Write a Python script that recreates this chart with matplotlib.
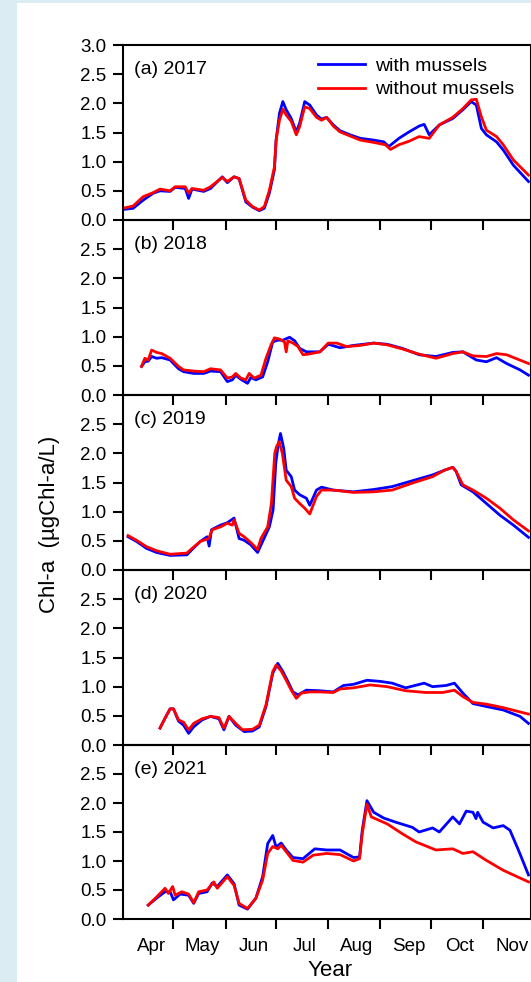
import matplotlib
matplotlib.use('Agg')
import matplotlib.pyplot as plt
from matplotlib.patches import Rectangle
from matplotlib.ticker import FixedLocator, FormatStrFormatter

plt.rcParams['font.family'] = ['Liberation Sans', 'DejaVu Sans']

# day of year (2017 calendar) and Chl-a values
years = ['(a) 2017', '(b) 2018', '(c) 2019', '(d) 2020', '(e) 2021']

# (a) 2017
day_a_with = [91, 97, 103, 109, 113, 119, 122, 128, 130, 132, 139, 143, 150, 153, 157, 160, 164, 168, 172, 175,
              178, 181, 182, 184, 186, 188, 191, 194, 196, 199, 202, 206, 209, 212, 216, 220, 226, 232, 240, 246,
              249, 255, 261, 267, 270, 273, 279, 287, 293, 298, 301, 304, 307, 313, 317, 323, 332]
chl_a_with = [0.18, 0.20, 0.34, 0.46, 0.50, 0.49, 0.56, 0.54, 0.37, 0.53, 0.49, 0.54, 0.74, 0.64, 0.74, 0.71, 0.31,
              0.22, 0.16, 0.20, 0.46, 0.86, 1.37, 1.83, 2.03, 1.89, 1.74, 1.51, 1.66, 2.03, 1.97, 1.80, 1.73, 1.76,
              1.63, 1.53, 1.46, 1.40, 1.37, 1.34, 1.26, 1.40, 1.51, 1.61, 1.64, 1.46, 1.63, 1.74, 1.89, 2.03, 1.97,
              1.57, 1.46, 1.34, 1.20, 0.94, 0.66]
day_a_without = [91, 97, 103, 109, 113, 119, 122, 128, 130, 132, 139, 143, 150, 153, 157, 160, 164, 168, 172, 175,
                 178, 181, 182, 184, 186, 188, 191, 194, 196, 199, 202, 206, 209, 212, 216, 220, 226, 232, 240, 247,
                 250, 255, 261, 267, 273, 279, 287, 293, 298, 301, 304, 307, 313, 317, 323, 332]
chl_a_without = [0.20, 0.24, 0.40, 0.47, 0.53, 0.50, 0.57, 0.57, 0.46, 0.54, 0.51, 0.57, 0.73, 0.66, 0.74, 0.71,
                 0.34, 0.23, 0.17, 0.23, 0.51, 0.91, 1.37, 1.71, 1.90, 1.80, 1.69, 1.46, 1.60, 1.94, 1.91, 1.76,
                 1.71, 1.76, 1.61, 1.51, 1.44, 1.37, 1.33, 1.29, 1.21, 1.29, 1.35, 1.43, 1.40, 1.63, 1.76, 1.91,
                 2.06, 2.07, 1.77, 1.54, 1.43, 1.29, 1.03, 0.77]

# (b) 2018
day_b_with = [102, 104, 106, 108, 111, 114, 119, 124, 127, 133, 139, 143, 149, 153, 156, 158, 161, 165, 167, 170,
              174, 177, 180, 183, 186, 190, 193, 196, 200, 208, 213, 220, 228, 240, 248, 257, 267, 277, 287, 293,
              301, 307, 313, 319, 327, 332]
chl_b_with = [0.49, 0.57, 0.58, 0.66, 0.63, 0.64, 0.60, 0.45, 0.40, 0.37, 0.37, 0.41, 0.40, 0.23, 0.26, 0.34, 0.27,
              0.20, 0.30, 0.26, 0.31, 0.57, 0.91, 0.94, 0.94, 0.99, 0.93, 0.80, 0.74, 0.74, 0.87, 0.81, 0.85, 0.89,
              0.87, 0.80, 0.69, 0.66, 0.73, 0.74, 0.60, 0.57, 0.64, 0.54, 0.43, 0.34]
day_b_without = [102, 104, 106, 108, 111, 114, 119, 124, 127, 133, 139, 143, 149, 153, 156, 158, 161, 164, 166, 169,
                 173, 176, 179, 181, 184, 187, 188, 189, 192, 195, 198, 201, 208, 213, 218, 224, 232, 240, 248, 257,
                 267, 277, 287, 293, 299, 307, 313, 319, 332]
chl_b_without = [0.49, 0.63, 0.60, 0.77, 0.73, 0.71, 0.63, 0.49, 0.43, 0.41, 0.40, 0.45, 0.43, 0.29, 0.31, 0.37,
                 0.29, 0.26, 0.37, 0.29, 0.34, 0.63, 0.86, 0.98, 0.96, 0.91, 0.74, 0.93, 0.89, 0.83, 0.69, 0.70,
                 0.74, 0.89, 0.89, 0.83, 0.85, 0.89, 0.86, 0.79, 0.70, 0.63, 0.71, 0.74, 0.67, 0.66, 0.71, 0.69, 0.54]

# (c) 2019
day_c_with = [94, 99, 105, 111, 119, 129, 132, 137, 141, 142.2, 143.6, 149, 153, 157, 160, 163, 167, 171, 174, 178,
              180.2, 181.8, 183.2, 184.6, 186.5, 188, 191, 193, 196, 200, 202, 206, 209, 216, 228, 240, 251, 263,
              275, 282, 287, 289, 292, 299, 307, 315, 323, 332]
chl_c_with = [0.57, 0.49, 0.37, 0.30, 0.25, 0.26, 0.35, 0.49, 0.57, 0.41, 0.69, 0.77, 0.81, 0.89, 0.54, 0.51, 0.43,
              0.30, 0.49, 0.74, 1.03, 1.83, 2.14, 2.34, 2.09, 1.71, 1.60, 1.37, 1.29, 1.23, 1.11, 1.37, 1.42, 1.37,
              1.34, 1.38, 1.43, 1.53, 1.63, 1.71, 1.76, 1.69, 1.46, 1.34, 1.14, 0.94, 0.77, 0.56]
day_c_without = [94, 99, 105, 111, 119, 129, 132, 137, 142, 144, 149, 153, 156, 157, 160, 163, 167, 171, 173, 177,
                 179.2, 181.2, 182.2, 183.8, 185.7, 188, 191, 193, 196, 199, 202, 206, 209, 216, 228, 240, 251,
                 263, 275, 282, 287, 289, 293, 299, 307, 315, 323, 332]
chl_c_without = [0.59, 0.51, 0.40, 0.33, 0.27, 0.29, 0.37, 0.49, 0.54, 0.69, 0.74, 0.80, 0.77, 0.86, 0.63, 0.57,
                 0.47, 0.35, 0.54, 0.74, 1.14, 2.00, 2.11, 2.20, 2.00, 1.54, 1.43, 1.23, 1.14, 1.06, 0.96, 1.26,
                 1.37, 1.37, 1.33, 1.34, 1.37, 1.49, 1.60, 1.71, 1.76, 1.69, 1.46, 1.37, 1.23, 1.06, 0.86, 0.67]

# (d) 2020
day_d_with = [113, 116, 119, 121, 124, 127, 130, 133, 138, 143, 148, 151, 154, 158, 163, 168, 172, 176, 180, 183,
              186, 189, 192, 195, 200, 208, 216, 222, 228, 236, 244, 251, 259, 270, 275, 283, 288, 293, 299, 307,
              317, 327, 332]
chl_d_with = [0.29, 0.46, 0.62, 0.62, 0.41, 0.34, 0.20, 0.31, 0.43, 0.49, 0.45, 0.26, 0.49, 0.34, 0.23, 0.24, 0.31,
              0.66, 1.23, 1.40, 1.26, 1.09, 0.91, 0.86, 0.94, 0.93, 0.91, 1.02, 1.04, 1.11, 1.09, 1.06, 0.98, 1.06,
              1.00, 1.02, 1.06, 0.89, 0.71, 0.66, 0.60, 0.49, 0.37]
day_d_without = [113, 116, 119, 121, 124, 127, 130, 133, 138, 143, 148, 151, 154, 158, 162, 168, 172, 176, 180, 182,
                 185, 188, 191, 194, 197, 202, 208, 216, 220, 228, 238, 248, 259, 271, 281, 288, 293, 299, 307,
                 317, 332]
chl_d_without = [0.29, 0.46, 0.62, 0.62, 0.43, 0.39, 0.26, 0.37, 0.45, 0.49, 0.47, 0.29, 0.49, 0.37, 0.26, 0.27,
                 0.34, 0.69, 1.26, 1.37, 1.27, 1.11, 0.94, 0.80, 0.89, 0.91, 0.91, 0.90, 0.96, 0.98, 1.03, 1.00,
                 0.93, 0.90, 0.90, 0.94, 0.83, 0.73, 0.70, 0.64, 0.53]

# (e) 2021
day_e_with = [106, 111, 116, 119, 121, 125, 130, 133, 136, 141, 144, 147, 153, 157, 160, 165, 170, 174, 177, 180,
              182, 185, 188, 192, 198, 205, 212, 220, 228, 231.6, 233.2, 236, 240, 246, 253, 263, 267, 275, 279,
              287, 291, 295, 299, 300.8, 301.8, 305, 311, 317, 321, 326, 332]
chl_e_with = [0.24, 0.36, 0.47, 0.47, 0.33, 0.43, 0.41, 0.27, 0.44, 0.47, 0.62, 0.56, 0.76, 0.61, 0.24, 0.17, 0.36,
              0.73, 1.30, 1.44, 1.24, 1.31, 1.19, 1.06, 1.04, 1.21, 1.19, 1.19, 1.06, 1.07, 1.53, 2.04, 1.84, 1.74,
              1.67, 1.58, 1.50, 1.57, 1.50, 1.76, 1.64, 1.86, 1.84, 1.73, 1.84, 1.67, 1.57, 1.61, 1.53, 1.19, 0.76]
day_e_without = [106, 111, 116, 118, 120.5, 122, 126, 130, 133, 136, 141, 145, 147, 153, 157, 160, 165, 170, 174,
                 177, 180, 183, 185, 188, 192, 198, 204, 212, 220, 228, 231.6, 233.2, 236, 238.6, 248, 257, 265,
                 277, 287, 293, 299, 307, 317, 332]
chl_e_without = [0.24, 0.38, 0.53, 0.44, 0.56, 0.41, 0.47, 0.43, 0.28, 0.47, 0.50, 0.64, 0.53, 0.73, 0.58, 0.27,
                 0.18, 0.36, 0.67, 1.13, 1.25, 1.21, 1.27, 1.16, 1.01, 0.98, 1.10, 1.13, 1.11, 1.00, 1.04, 1.47,
                 1.98, 1.76, 1.64, 1.47, 1.33, 1.19, 1.21, 1.13, 1.16, 1.01, 0.84, 0.64]

month_names = ['Apr', 'May', 'Jun', 'Jul', 'Aug', 'Sep', 'Oct', 'Nov']
month_starts = [91, 121, 152, 182, 213, 244, 274, 305]

panels = [
    (day_a_with, chl_a_with, day_a_without, chl_a_without),
    (day_b_with, chl_b_with, day_b_without, chl_b_without),
    (day_c_with, chl_c_with, day_c_without, chl_c_without),
    (day_d_with, chl_d_with, day_d_without, chl_d_without),
    (day_e_with, chl_e_with, day_e_without, chl_e_without),
]

W, H = 531, 982
fig = plt.figure(figsize=(W / 100, H / 100), dpi=100)
fig.patch.set_facecolor('#dcecf3')
# white card behind the chart
fig.patches.append(Rectangle((17 / W, 0), 1 - 17 / W, 1 - 3 / H, transform=fig.transFigure,
                             facecolor='white', edgecolor='none', zorder=-10))

tops = [45, 220, 395, 570, 745]
bottoms = [220, 395, 570, 745, 919]
left_px, right_px = 123, 531

for i, (dw, cw, dwo, cwo) in enumerate(panels):
    ax = fig.add_axes([left_px / W, 1 - bottoms[i] / H, (right_px - left_px) / W, (bottoms[i] - tops[i]) / H])
    ax.set_zorder(1)
    ax.patch.set_alpha(0)
    ax.plot(dw, cw, color='#0000ff', lw=2.0, label='with mussels')
    ax.plot(dwo, cwo, color='#ff0000', lw=2.0, label='without mussels')
    ax.set_xlim(91, 333.5)
    ax.set_ylim(0, 3.0)
    if i == 0:
        ax.set_yticks([0, 0.5, 1.0, 1.5, 2.0, 2.5, 3.0])
    else:
        ax.set_yticks([0, 0.5, 1.0, 1.5, 2.0, 2.5])
    ax.yaxis.set_major_formatter(FormatStrFormatter('%.1f'))
    ax.xaxis.set_major_locator(FixedLocator(month_starts[1:]))
    ax.xaxis.set_minor_locator(FixedLocator([m + 17 for m in month_starts]))
    ax.tick_params(axis='both', which='major', direction='out', length=7, width=1.5,
                   labelsize=13.5, pad=5)
    ax.tick_params(axis='x', which='minor', length=0, labelsize=13.5, pad=14)
    ax.set_xticklabels([])
    if i == 4:
        ax.set_xticklabels(month_names, minor=True)
    else:
        ax.set_xticklabels([], minor=True)
    for s in ax.spines.values():
        s.set_linewidth(1.5)
    ax.text(0.027, 0.86, years[i], transform=ax.transAxes, fontsize=14, ha='left', va='center')
    if i == 0:
        ax.legend(loc='upper left', bbox_to_anchor=(0.455, 0.985), frameon=False, fontsize=14,
                  borderpad=0, handlelength=2.4, handletextpad=0.5, labelspacing=0.3)

fig.text(50 / W, 1 - 524 / H, 'Chl-a  (µgChl-a/L)', rotation=90, ha='center', va='center', fontsize=16)
fig.text(330 / W, 1 - 970 / H, 'Year', ha='center', va='center', fontsize=16)

fig.savefig('out.png', dpi=100, facecolor=fig.get_facecolor())
